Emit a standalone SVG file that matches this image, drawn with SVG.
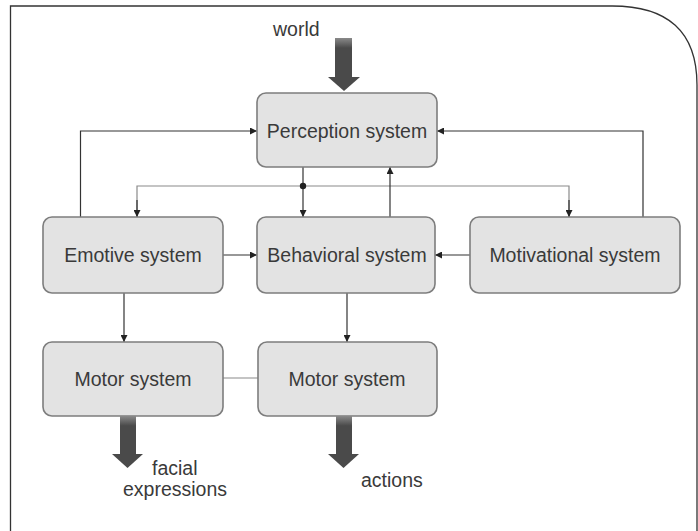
<svg xmlns="http://www.w3.org/2000/svg" width="698" height="531" viewBox="0 0 698 531">
<defs>
<style>
.box{fill:#e3e3e3;stroke:#7d7d7d;stroke-width:1.6}
.lbl{font-family:"Liberation Sans",Arial,sans-serif;font-size:19.5px;fill:#3a3a3a;text-anchor:middle}
.out{font-family:"Liberation Sans",Arial,sans-serif;font-size:19.5px;fill:#3a3a3a}
.ln{fill:none;stroke:#333;stroke-width:1.2}
.lt{fill:none;stroke:#8a8a8a;stroke-width:1.2}
.big{fill:#4a4a4a}
</style>
<marker id="ah" viewBox="0 0 10 10" refX="10" refY="5" markerWidth="7" markerHeight="7" markerUnits="userSpaceOnUse" orient="auto">
<path d="M0,0 L10,5 L0,10 z" fill="#222"/>
</marker>
<linearGradient id="shaft" x1="0" y1="0" x2="0" y2="1">
<stop offset="0" stop-color="#8a8a8a"/>
<stop offset="0.25" stop-color="#4a4a4a"/>
<stop offset="1" stop-color="#4a4a4a"/>
</linearGradient>
</defs>
<rect width="698" height="531" fill="#fff"/>
<path d="M10.5,531 V6 H610 Q697,5 697,85 V531" fill="none" stroke="#333" stroke-width="1.3"/>

<g id="connectors">
<polyline class="ln" points="80.5,217 80.5,131 257,131" marker-end="url(#ah)"/>
<polyline class="ln" points="643,217 643,131 437,131" marker-end="url(#ah)"/>
<line class="ln" x1="303" y1="167" x2="303" y2="217" marker-end="url(#ah)"/>
<polyline class="lt" points="137,217 137,186 569,186 569,217"/>
<line class="ln" x1="137" y1="200" x2="137" y2="217" marker-end="url(#ah)"/>
<line class="ln" x1="569" y1="200" x2="569" y2="217" marker-end="url(#ah)"/>
<circle cx="303" cy="186" r="3.2" fill="#222"/>
<line class="ln" x1="390" y1="217" x2="390" y2="167" marker-end="url(#ah)"/>
<line class="ln" x1="223" y1="255" x2="257" y2="255" marker-end="url(#ah)"/>
<line class="ln" x1="470" y1="255" x2="435" y2="255" marker-end="url(#ah)"/>
<line class="ln" x1="124" y1="293" x2="124" y2="342" marker-end="url(#ah)"/>
<line class="ln" x1="347" y1="293" x2="347" y2="342" marker-end="url(#ah)"/>
<line class="lt" x1="223" y1="378" x2="258" y2="378"/>
</g>

<g id="world">
<text class="out" x="273" y="36">world</text>
<rect x="335" y="38" width="17" height="40" fill="url(#shaft)"/>
<polygon class="big" points="328,77 360,77 344,91"/>
</g>

<g id="perception">
<rect class="box" x="257" y="93" width="180" height="74" rx="9"/>
<text class="lbl" x="347" y="138">Perception system</text>
</g>

<g id="emotive">
<rect class="box" x="43" y="217" width="180" height="76" rx="9"/>
<text class="lbl" x="133" y="262">Emotive system</text>
</g>

<g id="behavioral">
<rect class="box" x="257" y="217" width="178" height="76" rx="9"/>
<text class="lbl" x="347" y="262">Behavioral system</text>
</g>

<g id="motivational">
<rect class="box" x="470" y="217" width="210" height="76" rx="9"/>
<text class="lbl" x="575" y="262">Motivational system</text>
</g>

<g id="motor-left">
<rect class="box" x="43" y="342" width="180" height="74" rx="9"/>
<text class="lbl" x="133" y="386">Motor system</text>
</g>

<g id="motor-right">
<rect class="box" x="258" y="342" width="179" height="74" rx="9"/>
<text class="lbl" x="347" y="386">Motor system</text>
</g>

<g id="facial">
<rect x="120" y="416" width="16" height="39" fill="url(#shaft)"/>
<polygon class="big" points="112,454 143,454 127.5,468"/>
<text class="out" x="152" y="475">facial</text>
<text class="out" x="123" y="496">expressions</text>
</g>

<g id="actions">
<rect x="336" y="416" width="16" height="39" fill="url(#shaft)"/>
<polygon class="big" points="328,454 359,454 343.5,468"/>
<text class="out" x="361" y="487">actions</text>
</g>
</svg>
